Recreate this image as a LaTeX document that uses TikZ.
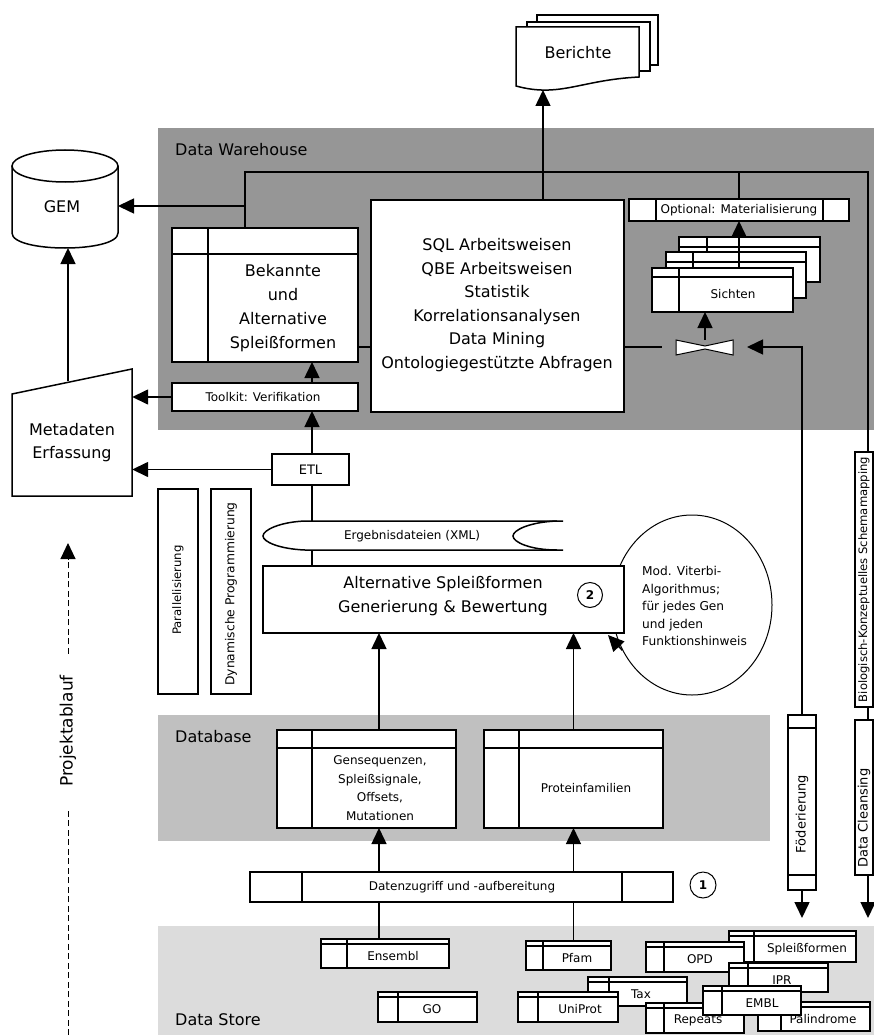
\documentclass[tikz,border=0pt]{standalone}
\usepackage{fontspec}
\setmainfont{DejaVu Sans}
\usetikzlibrary{arrows.meta,shapes.geometric}
\definecolor{dwgray}{HTML}{969696}
\definecolor{dbgray}{HTML}{C0C0C0}
\definecolor{dsgray}{HTML}{DCDCDC}
\newcommand{\fsz}[2]{\fontsize{#1}{#2}\selectfont}
\newcommand{\rbox}[5]{\node[bx, anchor=north west, minimum width={(#4)-(#2)}, minimum height={(#5)-(#3)}] (#1) at (#2,#3) {};}
\newcommand{\tbl}[9]{%
  \rbox{#1}{#2}{#3}{#4}{#5}
  \draw[ln] (#2,{#3+#7}) -- (#4,{#3+#7}) (#6,#3) -- (#6,#5);
  \if\relax\detokenize{#9}\relax\else
  \node[tt] (#1-t) at (#8,{(#3+#7+#5)/2}) {#9};\fi
}
\tikzset{
  ln/.style={line width=1.5pt},
  arr/.style={line width=1.5pt, -{Triangle[length=16pt,width=15pt]}},
  bx/.style={draw, fill=white, line width=1.5pt, inner sep=0pt, outer sep=0pt},
  big/.style={font=\fsz{16}{23.5}, align=center, inner sep=0pt},
  tt/.style={font=\fsz{12}{14}, align=center, inner sep=0pt},
  rt/.style={rotate=90, inner sep=0pt},
  dsh/.style={line width=1pt, dash pattern=on 6pt off 3.5pt},
}
\begin{document}
\begin{tikzpicture}[x=1pt,y=-1pt]
\useasboundingbox (0,0) rectangle (874,1035);
% regions
\fill[dwgray] (158,128) rectangle (874,430);
\fill[dbgray] (158,715) rectangle (770,841);
\fill[dsgray] (158,926) rectangle (874,1035);
\node[big, anchor=west] (l-dw) at (175,150) {Data Warehouse};
\node[big, anchor=west] (l-db) at (175,737) {Database};
\node[big, anchor=west] (l-ds) at (175,1020) {Data Store};

% helper coordinates
\coordinate (busL) at (245,172);
\coordinate (busR) at (868,172);
\coordinate (joinY) at (0,347);
\coordinate (c379) at (379,0);
\coordinate (gemE) at (118,206);
\coordinate (gemB) at (68,248);
\coordinate (metaT) at (68,381);
\coordinate (berB) at (543,90);
\coordinate (leftEnd) at (662,347);
\coordinate (bowR) at (747,347);
\coordinate (downY) at (0,918);
\coordinate (vitTip) at (608,635);

% GEM cylinder
\draw[ln, fill=white] (12,166) -- (12,233) .. controls (12,253) and (118,253) .. (118,233) -- (118,166);
\draw[ln, fill=white] (65,166) ellipse [x radius=53, y radius=16];
\node[font=\fsz{16}{16}, inner sep=0pt] (gem) at (62,207) {GEM};

% Metadaten
\draw[ln, fill=white] (12,394) -- (132,369) -- (132,496) -- (12,496) -- cycle;
\node[big, font=\fsz{16}{23}, minimum width=120] (meta) at (72,443) {Metadaten\\Erfassung};

% Berichte
\draw[ln, fill=white] (537,15) rectangle (658,65);
\draw[ln, fill=white] (527,22) rectangle (650,71);
\draw[ln, fill=white] (516,27) -- (639,27) -- (639,77) .. controls (580,80) and (560,98) .. (516,86) -- cycle;
\node[font=\fsz{16}{16}, inner sep=0pt] (ber) at (578,53) {Berichte};

% Data warehouse boxes
\begin{scope}[tt/.style={font=\fsz{16}{24}, align=center, inner sep=0pt}]
\tbl{bek}{172}{228}{358}{362}{208}{26}{283}{Bekannte\\und\\Alternative\\Spleißformen}
\end{scope}
\rbox{tool}{172}{383}{358}{411}
\node[font=\fsz{12}{12}, inner sep=0pt] (tool-t) at (263,397) {Toolkit: Verifikation};
\rbox{sql}{371}{200}{624}{412}
\node[big] (sql-t) at (497,305) {SQL Arbeitsweisen\\QBE Arbeitsweisen\\Statistik\\Korrelationsanalysen\\Data Mining\\Ontologiegestützte Abfragen};
\rbox{opt}{629}{199}{849}{221}
\draw[ln] (656,199) -- (656,221) (823,199) -- (823,221);
\node[font=\fsz{12}{12}, inner sep=0pt] (opt-t) at (739,210) {Optional: Materialisierung};
\tbl{s3}{679}{237}{820}{282}{707}{10}{750}{}
\tbl{s2}{666}{252}{806}{298}{693}{10}{740}{}
\tbl{s1}{652}{268}{793}{312}{679}{9}{733}{Sichten}
\node[minimum width=57, minimum height=15, inner sep=0pt] (bow) at (705,347.5) {};
\draw[line width=1pt, fill=white] (676,340) -- (705,346) -- (733,340) -- (733,355) -- (705,349) -- (676,355) -- cycle;

% bus and DW connectors
\draw[ln] (bek.north -| busL) -- (busL) -- (busR) -- (868,452);
\draw[ln] (opt.north |- busL) -- (opt.north);
\draw[arr] (busL |- gemE) -- (gemE);
\draw[arr] (sql.north -| berB) -- (berB);
\draw[ln] (bek.east |- joinY) -- (sql.west |- joinY);
\draw[ln] (sql.east |- joinY) -- (leftEnd);
\draw[arr] (bow.north) -- (bow.north |- s1.south);
\draw[arr] (s1.north -| opt.north) -- (opt.south);
\draw[arr] (tool.north -| 312,0) -- (bek.south -| 312,0);
\draw[arr] (tool.west) -- (meta.east |- tool.west);
\draw[arr] (metaT) -- (gemB);

% ETL
\rbox{etl}{272}{454}{349}{485}
\node[font=\fsz{13}{13}, inner sep=0pt] (etl-t) at (310.5,469.5) {ETL};
\draw[arr] (etl.north -| 312,0) -- (tool.south -| 312,0);
\draw[arr] (etl.west) -- (meta.east |- etl.west);

% side boxes
\rbox{par}{158}{489}{198}{694}
\node[rt, font=\fsz{11.7}{12}] (par-t) at (178,590) {Parallelisierung};
\rbox{dyn}{211}{489}{251}{694}
\node[rt, font=\fsz{12.3}{12}] (dyn-t) at (231,594) {Dynamische Programmierung};

% Viterbi ellipse
\node[draw, ellipse, line width=1pt, minimum width=160, minimum height=180, inner sep=0pt] (vit) at (692,605) {};
\node[anchor=west, align=left, font=\fsz{12.2}{17.5}, inner sep=0pt] (vit-t) at (642,606) {Mod. Viterbi-\\Algorithmus;\\für jedes Gen\\und jeden\\Funktionshinweis};

% Alternative box
\rbox{alt}{263}{566}{624}{633}
\node[big, font=\fsz{16}{24}] (alt-t) at (443,596) {Alternative Spleißformen\\Generierung \& Bewertung};
\node[draw, circle, line width=1pt, minimum size=25, inner sep=0pt, font=\bfseries\fsz{12}{12}] (n2) at (590,595) {2};
\draw[arr] (vit.213) -- (vitTip);
\draw[ln] (alt.north -| 312,0) -- (etl.south -| 312,0);

% Ergebnisdateien
\fill[white] (305,521) -- (557,521) .. controls (530,522) and (513,530) .. (513,536) .. controls (513,542) and (530,550) .. (557,550) -- (305,550) .. controls (280,549) and (263,542) .. (263,536) .. controls (263,530) and (280,522) .. (305,521) -- cycle;
\draw[ln] (563,521) -- (305,521) .. controls (280,522) and (263,530) .. (263,536) .. controls (263,542) and (280,549) .. (305,550) -- (563,550);
\draw[ln] (557,521) .. controls (530,522) and (513,530) .. (513,536) .. controls (513,542) and (530,550) .. (557,550);
\node[font=\fsz{12}{12}, inner sep=0pt] (erg) at (412,536) {Ergebnisdateien (XML)};

% Database
\begin{scope}[tt/.style={font=\fsz{12}{18.5}, align=center, inner sep=0pt}]
\tbl{gens}{277}{730}{456}{828}{312}{18}{380}{Gensequenzen,\\Spleißsignale,\\Offsets,\\Mutationen}
\end{scope}
\tbl{prot}{484}{730}{663}{828}{519}{18}{586}{Proteinfamilien}
\draw[arr] (gens.north -| c379) -- (alt.south -| c379);
\draw[arr] (prot.north) -- (alt.south -| prot.north);

% Datenzugriff
\rbox{dz}{250}{872}{673}{902}
\draw[ln] (302,872) -- (302,902) (622,872) -- (622,902);
\node[tt] (dz-t) at (462,887) {Datenzugriff und -aufbereitung};
\node[draw, circle, line width=1pt, minimum size=26, inner sep=0pt, font=\bfseries\fsz{12}{12}] (n1) at (703,885) {1};
\draw[arr] (dz.north -| c379) -- (gens.south -| c379);
\draw[arr] (dz.north -| prot.north) -- (prot.south);

% right vertical boxes
\rbox{foed}{788}{715}{816}{890}
\draw[ln] (788,728) -- (816,728) (788,875) -- (816,875);
\node[rt, font=\fsz{13}{13}] (foed-t) at (802,814) {Föderierung};
\rbox{bio}{855}{452}{873}{707}
\node[rt, font=\fsz{11.6}{11}] (bio-t) at (864,579.5) {Biologisch-Konzeptuelles Schemamapping};
\rbox{dc}{855}{720}{873}{875}
\node[rt, font=\fsz{13}{13}] (dc-t) at (864,818) {Data Cleansing};
\draw[arr] (foed.north) -- (foed.north |- joinY) -- (bowR);
\draw[ln] (bio.south -| busR) -- (dc.north -| busR);
\draw[arr] (dc.south -| busR) -- (busR |- downY);
\draw[arr] (foed.south) -- (foed.south |- downY);

% Data store tables
\tbl{ens}{321}{939}{449}{968}{347}{5}{393}{Ensembl}
\tbl{go}{378}{992}{477}{1022}{398}{5}{432}{GO}
\tbl{pfam}{526}{941}{611}{970}{543}{5}{577}{Pfam}
\draw[ln] (dz.south -| c379) -- (ens.north -| c379);
\draw[ln] (dz.south -| prot.north) -- (pfam.north -| prot.north);
\tbl{spl}{729}{931}{856}{962}{754}{5}{807}{Spleißformen}
\tbl{opd}{646}{942}{744}{972}{664}{5}{700}{OPD}
\tbl{ipr}{729}{963}{828}{992}{748}{5}{782}{IPR}
\tbl{tax}{588}{977}{687}{1006}{609}{5}{641}{Tax}
\tbl{uni}{518}{992}{618}{1022}{538}{5}{580}{UniProt}
\tbl{rep}{646}{1003}{744}{1033}{664}{5}{698}{Repeats}
\tbl{pal}{758}{1002}{870}{1031}{781}{5}{823}{Palindrome}
\tbl{embl}{703}{986}{801}{1015}{722}{5}{762}{EMBL}

% Projektablauf
\node[rotate=90, inner xsep=21pt, inner ysep=0pt, font=\fsz{17}{17}] (proj) at (68,731) {Projektablauf};
\coordinate (projB) at (68,1035);
\coordinate (projTip) at (68,543);
\draw[dsh] (projB) -- (proj.west);
\draw[dsh, -{Triangle[length=16pt,width=15pt]}] (proj.east) -- (projTip);
\end{tikzpicture}
\end{document}
